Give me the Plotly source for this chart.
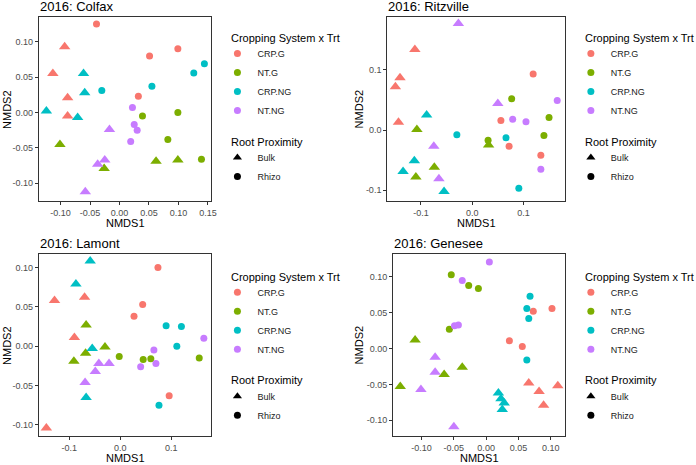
import plotly.graph_objects as go

# ---- data ----
groups = ["CRP.G", "NT.G", "CRP.NG", "NT.NG"]
roots = ["Bulk", "Rhizo"]

# Colfax: per group 4 Bulk then 4 Rhizo
colfax_x = [-0.093, -0.113, -0.088, -0.088, -0.039, 0.051, 0.099, 0.032,
            -0.101, -0.026, 0.062, 0.099, 0.039, 0.099, 0.082, 0.139,
            -0.124, -0.061, -0.059, -0.071, -0.030, 0.055, 0.126, 0.144,
            -0.017, -0.025, -0.037, -0.058, 0.022, 0.025, 0.030, 0.019]
colfax_y = [0.093, 0.055, 0.021, -0.005, 0.125, 0.080, 0.090, 0.023,
            -0.045, -0.079, -0.069, -0.067, -0.005, 0.000, -0.038, -0.066,
            0.002, 0.055, 0.028, -0.007, 0.031, 0.037, 0.056, 0.069,
            -0.024, -0.067, -0.073, -0.112, 0.007, -0.017, -0.025, -0.041]
colfax_group = ["CRP.G"] * 8 + ["NT.G"] * 8 + ["CRP.NG"] * 8 + ["NT.NG"] * 8
colfax_root = (["Bulk"] * 4 + ["Rhizo"] * 4) * 4

ritzville_x = [-0.112, -0.141, -0.150, -0.144, 0.119, 0.056, 0.072, 0.134,
               -0.108, 0.032, -0.110, -0.074, 0.077, 0.031, 0.140, 0.150,
               -0.089, -0.113, -0.135, -0.055, -0.030, 0.066, 0.091,
               -0.027, 0.050, -0.075, -0.065, 0.079, 0.105, 0.134, 0.166]
ritzville_y = [0.134, 0.087, 0.072, 0.013, 0.093, 0.016, -0.027, -0.042,
               0.001, -0.025, -0.078, -0.062, 0.052, -0.017, -0.009, 0.021,
               0.025, -0.051, -0.069, -0.102, -0.008, -0.013, -0.097,
               0.177, 0.044, -0.027, -0.081, 0.018, 0.014, -0.065, 0.049]
ritzville_group = ["CRP.G"] * 8 + ["NT.G"] * 8 + ["CRP.NG"] * 7 + ["NT.NG"] * 8
ritzville_root = (["Bulk"] * 4 + ["Rhizo"] * 4) * 2 + ["Bulk"] * 4 + ["Rhizo"] * 3 + ["Bulk"] * 4 + ["Rhizo"] * 4

lamont_x = [-0.129, -0.070, -0.090, -0.145, 0.074, 0.044, 0.027, 0.096,
            -0.067, -0.030, -0.068, -0.091, -0.002, 0.045, 0.060, 0.155,
            -0.059, -0.087, -0.055, -0.067, 0.090, 0.120, 0.111, 0.076,
            -0.042, -0.022, -0.049, -0.069, 0.066, 0.070, 0.040, 0.164]
lamont_y = [0.058, 0.062, 0.011, -0.104, 0.100, 0.053, 0.038, -0.063,
            0.027, -0.001, -0.009, -0.019, -0.013, -0.017, -0.016, -0.015,
            0.108, 0.079, -0.003, -0.065, 0.026, 0.025, 0.000, -0.075,
            -0.022, -0.022, -0.032, -0.046, -0.005, -0.022, -0.026, 0.010]
lamont_group = ["CRP.G"] * 8 + ["NT.G"] * 8 + ["CRP.NG"] * 8 + ["NT.NG"] * 8
lamont_root = (["Bulk"] * 4 + ["Rhizo"] * 4) * 4

genesee_x = [0.066, 0.082, 0.111, 0.089, 0.073, 0.036, 0.056, 0.102,
             -0.110, -0.065, -0.037, -0.133, -0.054, -0.027, -0.012, -0.057,
             0.019, 0.023, 0.028, 0.025, 0.068, 0.063, 0.066, 0.063,
             -0.079, -0.079, -0.101, -0.050, 0.005, -0.037, -0.049, -0.043]
genesee_y = [-0.048, -0.060, -0.052, -0.079, 0.052, 0.011, 0.003, 0.056,
             0.012, -0.036, -0.026, -0.053, 0.103, 0.088, 0.084, 0.027,
             -0.062, -0.070, -0.076, -0.085, 0.073, 0.056, 0.042, -0.016,
             -0.012, -0.033, -0.057, -0.109, 0.121, 0.095, 0.032, 0.033]
genesee_group = ["CRP.G"] * 8 + ["NT.G"] * 8 + ["CRP.NG"] * 8 + ["NT.NG"] * 8
genesee_root = (["Bulk"] * 4 + ["Rhizo"] * 4) * 4

ticks_2dp_a = [-0.10, -0.05, 0.00, 0.05, 0.10, 0.15]
ticks_2dp_a_text = ["-0.10", "-0.05", "0.00", "0.05", "0.10", "0.15"]
ticks_2dp = [-0.10, -0.05, 0.00, 0.05, 0.10]
ticks_2dp_text = ["-0.10", "-0.05", "0.00", "0.05", "0.10"]
ticks_1dp = [-0.1, 0.0, 0.1]
ticks_1dp_text = ["-0.1", "0.0", "0.1"]

# ---- styling ----
colors = {"CRP.G": "#F8766D", "NT.G": "#7CAE00", "CRP.NG": "#00BFC4", "NT.NG": "#C77CFF"}
symbols = {"Bulk": "triangle-up", "Rhizo": "circle"}
sizes = {"Bulk": 10, "Rhizo": 7}
FONT = "Liberation Sans, Arial, sans-serif"
W, H = 696, 465


def px(x):
    return x / W


def py(y):
    return 1 - y / H


panels = [
    dict(title="2016: Colfax", x=colfax_x, y=colfax_y, g=colfax_group, r=colfax_root,
         dom=(39, 213, 17, 201), xr=[-0.137, 0.156], yr=[-0.125, 0.135],
         xt=(ticks_2dp_a, ticks_2dp_a_text), yt=(ticks_2dp, ticks_2dp_text),
         leg=(219, 231, 38, 141.7), title_y=7, ytitle_x=7),
    dict(title="2016: Ritzville", x=ritzville_x, y=ritzville_y, g=ritzville_group, r=ritzville_root,
         dom=(390, 569, 17, 201), xr=[-0.166, 0.181], yr=[-0.118, 0.188],
         xt=(ticks_1dp, ticks_1dp_text), yt=(ticks_1dp, ticks_1dp_text),
         leg=(575, 587, 38, 141.7), title_y=7, ytitle_x=362),
    dict(title="2016: Lamont", x=lamont_x, y=lamont_y, g=lamont_group, r=lamont_root,
         dom=(39, 213, 254, 436), xr=[-0.160, 0.179], yr=[-0.114, 0.117],
         xt=(ticks_1dp, ticks_1dp_text), yt=(ticks_2dp, ticks_2dp_text),
         leg=(219, 231, 276.7, 380), title_y=243.5, ytitle_x=7),
    dict(title="2016: Genesee", x=genesee_x, y=genesee_y, g=genesee_group, r=genesee_root,
         dom=(396, 569, 254, 436), xr=[-0.144, 0.122], yr=[-0.122, 0.132],
         xt=(ticks_2dp, ticks_2dp_text), yt=(ticks_2dp, ticks_2dp_text),
         leg=(575, 587, 276.7, 380), title_y=243.5, ytitle_x=362),
]

fig = go.Figure()
annotations = []


def label(text, x, y, size, anchor="left", angle=0):
    return dict(text=text, x=px(x), y=py(y), xref="paper", yref="paper",
                xanchor=anchor, yanchor="middle", showarrow=False, textangle=angle,
                font=dict(size=size, color="black", family=FONT))


for i, p in enumerate(panels, start=1):
    sfx = "" if i == 1 else str(i)
    xa, ya = "x" + sfx, "y" + sfx
    lid = "legend" + sfx
    # data marks
    for root in roots:
        for g in groups:
            idx = [k for k in range(len(p["x"])) if p["g"][k] == g and p["r"][k] == root]
            fig.add_trace(go.Scatter(
                x=[p["x"][k] for k in idx], y=[p["y"][k] for k in idx],
                mode="markers", xaxis=xa, yaxis=ya, showlegend=False,
                marker=dict(color=colors[g], symbol=symbols[root], size=sizes[root],
                            line=dict(width=0)),
                hovertemplate=g + " / " + root + "<extra></extra>",
            ))
    # legend entries
    for g in groups:
        fig.add_trace(go.Scatter(
            x=[None], y=[None], mode="markers", xaxis=xa, yaxis=ya, name=g,
            legend=lid, legendgroup="trt",
            marker=dict(color=colors[g], symbol="circle", size=7)))
    for root in roots:
        fig.add_trace(go.Scatter(
            x=[None], y=[None], mode="markers", xaxis=xa, yaxis=ya, name=root,
            legend=lid, legendgroup="root",
            marker=dict(color="black", symbol=symbols[root], size=8 if root == "Bulk" else 7)))

    x0, x1, y0, y1 = p["dom"]
    axis_common = dict(showline=True, mirror=True, linecolor="#333333", linewidth=1,
                       ticks="outside", ticklen=3, tickcolor="#333333",
                       tickfont=dict(size=9, color="#4d4d4d", family=FONT),
                       showgrid=False, zeroline=False)
    fig.update_layout(**{
        "xaxis" + sfx: dict(domain=[px(x0), px(x1)], range=p["xr"], anchor=ya,
                            tickvals=p["xt"][0], ticktext=p["xt"][1], **axis_common),
        "yaxis" + sfx: dict(domain=[py(y1), py(y0)], range=p["yr"], anchor=xa,
                            tickvals=p["yt"][0], ticktext=p["yt"][1], **axis_common),
    })
    lx, tx, t1y, t2y = p["leg"]
    fig.update_layout(**{lid: dict(
        x=px(lx), y=py(t1y + 1), xanchor="left", yanchor="top",
        bgcolor="rgba(0,0,0,0)", borderwidth=0, tracegroupgap=28,
        traceorder="grouped", font=dict(size=9, color="#1a1a1a", family=FONT),
        itemclick=False, itemdoubleclick=False)})

    annotations.append(label(p["title"], x0 - 1, p["title_y"], 13))
    annotations.append(label("NMDS1", (x0 + x1) / 2, y1 + 21.5, 11, anchor="center"))
    annotations.append(label("NMDS2", p["ytitle_x"], (y0 + y1) / 2, 11, anchor="center", angle=-90))
    annotations.append(label("Cropping System x Trt", tx, t1y, 11))
    annotations.append(label("Root Proximity", tx, t2y, 11))

fig.update_layout(
    width=W, height=H, margin=dict(l=0, r=0, t=0, b=0),
    paper_bgcolor="white", plot_bgcolor="white",
    font=dict(family=FONT, color="black"),
    annotations=annotations,
)

# page body has a default 8px margin; drop it so the figure fills the window
fig.write_html("out.html", config={"displayModeBar": False},
               post_script="document.body.style.margin='0px';")
